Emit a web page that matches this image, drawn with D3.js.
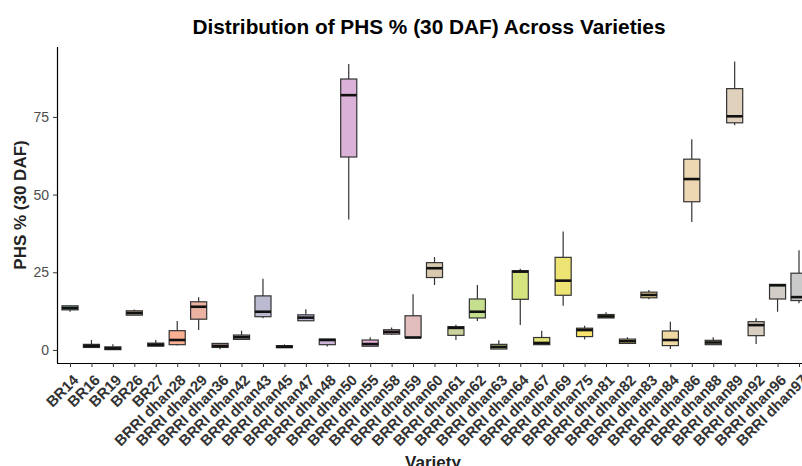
<!DOCTYPE html>
<html>
<head>
<meta charset="utf-8">
<script src="https://cdn.jsdelivr.net/npm/d3@7"></script>
<style>
  body { margin: 0; background: #fff; }
  text { font-family: "Liberation Sans", Arial, sans-serif; }
</style>
</head>
<body>
<div id="chart"></div>
<script>
// Varieties and box statistics (PHS %, 30 DAF)
const varieties = ["BR14", "BR16", "BR19", "BR26", "BR27", "BRRI dhan28", "BRRI dhan29", "BRRI dhan36",
  "BRRI dhan42", "BRRI dhan43", "BRRI dhan45", "BRRI dhan47", "BRRI dhan48", "BRRI dhan50", "BRRI dhan55",
  "BRRI dhan58", "BRRI dhan59", "BRRI dhan60", "BRRI dhan61", "BRRI dhan62", "BRRI dhan63", "BRRI dhan64",
  "BRRI dhan67", "BRRI dhan69", "BRRI dhan75", "BRRI dhan81", "BRRI dhan82", "BRRI dhan83", "BRRI dhan84",
  "BRRI dhan86", "BRRI dhan88", "BRRI dhan89", "BRRI dhan92", "BRRI dhan96", "BRRI dhan97"];
const whiskerLow = [12.3, 0.7, 0, 11.2, 1.2, 1.4, 6.4, 0.2, 3.4, 10.2, 0.75, 9.4, 1.1, 42, 1.2, 4.8, 4.0, 20.9,
  3.2, 9.3, 0.3, 8.0, 1.7, 14.2, 3.4, 10.3, 2.1, 16.3, 0.3, 41.2, 1.7, 72.3, 1.9, 12.3, 15.0];
const q1 = [12.9, 0.8, 0.1, 11.2, 1.2, 1.7, 9.9, 0.8, 3.4, 10.7, 0.75, 9.4, 1.7, 62.1, 1.2, 5.1, 4.0, 23.3,
  4.7, 10.3, 0.3, 16.3, 1.7, 17.6, 4.3, 10.3, 2.1, 16.8, 1.4, 47.7, 1.7, 73.1, 4.6, 16.4, 15.9];
const median = [13.5, 1.3, 0.5, 11.9, 1.7, 3.2, 13.9, 1.3, 4.1, 12.3, 1.0, 10.4, 3.2, 82.0, 1.9, 5.8, 4.0, 26.3,
  7.1, 12.3, 1.0, 25.2, 2.25, 22.3, 6.4, 10.8, 2.8, 17.7, 3.2, 55.0, 2.4, 75.2, 8.0, 20.8, 17.0];
const q3 = [14.2, 1.8, 1.0, 12.6, 2.2, 6.2, 15.5, 2.1, 4.8, 17.4, 1.4, 11.3, 3.5, 87.2, 3.2, 6.5, 11.0, 28.1,
  7.5, 16.4, 1.8, 25.5, 4.0, 29.8, 7.0, 11.4, 3.5, 18.6, 6.1, 61.4, 3.1, 84.1, 9.1, 21.1, 24.7];
const whiskerHigh = [14.3, 3.2, 1.8, 13.0, 3.2, 9.3, 17.0, 2.1, 6.2, 22.9, 1.8, 13.1, 3.5, 92.0, 4.1, 7.2, 17.9, 29.9,
  8.1, 20.9, 3.1, 26.1, 6.2, 38.1, 7.8, 12.1, 4.1, 19.3, 9.1, 67.8, 4.1, 92.8, 10.2, 21.1, 32.1];
const yTicks = [0, 25, 50, 75];
const paletteBase = ["#66C2A5", "#FC8D62", "#8DA0CB", "#E78AC3", "#A6D854", "#FFD92F", "#E5C494", "#B3B3B3"];

const rows = varieties.map((v, i) => ({
  name: v, lo: whiskerLow[i], q1: q1[i], med: median[i], q3: q3[i], hi: whiskerHigh[i]
}));

const width = 802, height = 466;
const svg = d3.select("#chart").append("svg")
  .attr("width", width)
  .attr("height", height);

// panel edges (right side runs off the picture, like the reference)
const panelLeft = 57, panelBottom = 363, panelTop = 47;

const x = d3.scalePoint()
  .domain(varieties)
  .range([70, 799]);
const boxW = x.step() * 0.75;

const y = d3.scaleLinear()
  .domain([-4.2, 97.5])
  .range([panelBottom, panelTop]);

const ramp = d3.piecewise(d3.interpolateRgb, paletteBase);
const color = d3.scaleOrdinal()
  .domain(varieties)
  .range(varieties.map((v, i) => ramp(i / (varieties.length - 1))));

// boxes
const g = svg.append("g");
const box = g.selectAll(".box")
  .data(rows)
  .enter().append("g")
  .attr("class", "box");

box.append("line")
  .attr("x1", d => x(d.name)).attr("x2", d => x(d.name))
  .attr("y1", d => y(d.q3)).attr("y2", d => y(d.hi))
  .attr("stroke", "#333").attr("stroke-width", 1.2);
box.append("line")
  .attr("x1", d => x(d.name)).attr("x2", d => x(d.name))
  .attr("y1", d => y(d.q1)).attr("y2", d => y(d.lo))
  .attr("stroke", "#333").attr("stroke-width", 1.2);

box.append("rect")
  .attr("x", d => x(d.name) - boxW / 2)
  .attr("width", boxW)
  .attr("y", d => y(d.q3))
  .attr("height", d => y(d.q1) - y(d.q3))
  .attr("fill", d => color(d.name))
  .attr("fill-opacity", 0.7)
  .attr("stroke", "#333")
  .attr("stroke-width", 1.2);

box.append("line")
  .attr("x1", d => x(d.name) - boxW / 2).attr("x2", d => x(d.name) + boxW / 2)
  .attr("y1", d => y(d.med)).attr("y2", d => y(d.med))
  .attr("stroke", "#111").attr("stroke-width", 2.6);

// axes
const xAxis = svg.append("g")
  .attr("transform", `translate(0,${panelBottom})`)
  .call(d3.axisBottom(x).tickSize(4).tickSizeOuter(0));
xAxis.select(".domain").attr("d", `M${panelLeft},0.5H${width + 20}`).attr("stroke", "#000").attr("stroke-width", 1.2);
xAxis.selectAll(".tick line").attr("stroke", "#333");
xAxis.selectAll(".tick text")
  .attr("font-size", 15)
  .attr("font-weight", "bold")
  .attr("fill", "#333")
  .attr("text-anchor", "end")
  .attr("y", 0).attr("dy", 0)
  .attr("transform", "translate(9,18) rotate(-45)");

const yAxis = svg.append("g")
  .attr("transform", `translate(${panelLeft},0)`)
  .call(d3.axisLeft(y).tickValues(yTicks).tickSize(4).tickSizeOuter(0));
yAxis.select(".domain").attr("d", `M0.5,${panelTop}V${panelBottom}`).attr("stroke", "#000").attr("stroke-width", 1.2);
yAxis.selectAll(".tick line").attr("stroke", "#333");
yAxis.selectAll(".tick text")
  .attr("font-size", 14)
  .attr("fill", "#4d4d4d")
  .attr("x", -8);

// titles
svg.append("text")
  .attr("x", 429).attr("y", 34)
  .attr("text-anchor", "middle")
  .attr("font-size", 20.8).attr("font-weight", "bold")
  .text("Distribution of PHS % (30 DAF) Across Varieties");

svg.append("text")
  .attr("transform", "translate(26,205) rotate(-90)")
  .attr("text-anchor", "middle")
  .attr("font-size", 17).attr("font-weight", "bold")
  .attr("fill", "#222")
  .text("PHS % (30 DAF)");

svg.append("text")
  .attr("x", 433).attr("y", 468)
  .attr("text-anchor", "middle")
  .attr("font-size", 17).attr("font-weight", "bold")
  .attr("fill", "#222")
  .text("Variety");
</script>
</body>
</html>
